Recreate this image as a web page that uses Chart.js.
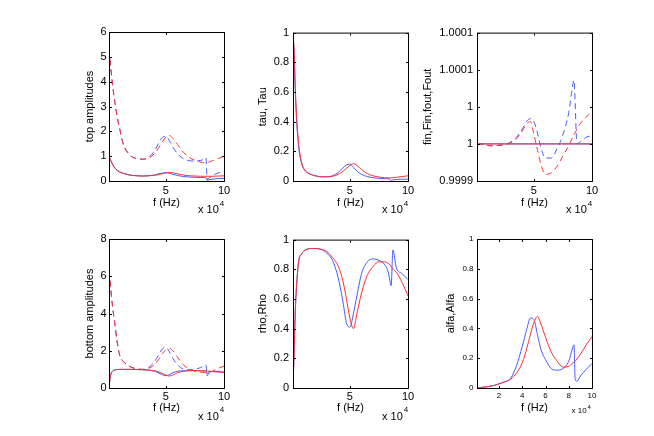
<!DOCTYPE html>
<html><head><meta charset="utf-8">
<script src="https://cdn.jsdelivr.net/npm/chart.js@4.4.1/dist/chart.umd.min.js"></script>
<style>
html,body{margin:0;padding:0;background:#fff;}
body{width:654px;height:436px;overflow:hidden;position:relative;}
canvas{position:absolute;}
</style>
</head><body>
<canvas id="c1"></canvas><canvas id="c2"></canvas><canvas id="c3"></canvas>
<canvas id="c4"></canvas><canvas id="c5"></canvas><canvas id="c6"></canvas>
<script>
// ---------- DATA ----------
const freqHz = [1000, 2000, 3000, 4000, 6000, 8000, 10000, 13000, 16000, 20000, 25000, 30000, 35000, 40000, 44000, 47000, 50000, 53000, 56000, 60000, 65000, 70000, 75000, 80000, 83000, 84500, 85500, 87000, 90000, 95000, 100000];

// top amplitudes
const topSolidBlue  = [0.99, 0.88, 0.77, 0.68, 0.53, 0.43, 0.37, 0.31, 0.27, 0.23, 0.21, 0.20, 0.21, 0.24, 0.29, 0.32, 0.33, 0.31, 0.27, 0.22, 0.18, 0.16, 0.15, 0.14, 0.14, 0.13, 0.03, 0.05, 0.07, 0.10, 0.11];
const topSolidRed   = [0.99, 0.88, 0.77, 0.68, 0.53, 0.43, 0.37, 0.31, 0.27, 0.23, 0.21, 0.20, 0.21, 0.23, 0.26, 0.30, 0.33, 0.35, 0.33, 0.29, 0.24, 0.21, 0.20, 0.19, 0.19, 0.19, 0.19, 0.19, 0.19, 0.20, 0.21];
const topDashBlue   = [5.3, 4.85, 4.35, 3.9, 3.2, 2.6, 2.15, 1.53, 1.22, 1.0, 0.9, 0.88, 0.95, 1.2, 1.55, 1.76, 1.8, 1.62, 1.36, 1.1, 0.9, 0.82, 0.8, 0.83, 0.88, 0.93, 0.06, 0.12, 0.22, 0.32, 0.4];
const topDashRed    = [5.3, 4.85, 4.35, 3.9, 3.2, 2.6, 2.15, 1.53, 1.22, 1.0, 0.9, 0.88, 0.92, 1.1, 1.35, 1.58, 1.77, 1.83, 1.72, 1.47, 1.16, 0.95, 0.83, 0.76, 0.73, 0.73, 0.74, 0.76, 0.82, 0.9, 1.0];

// tau, Tau
const tauBlue = [1.0, 0.85, 0.6, 0.42, 0.22, 0.13, 0.085, 0.058, 0.045, 0.035, 0.028, 0.028, 0.035, 0.058, 0.088, 0.108, 0.113, 0.092, 0.066, 0.045, 0.03, 0.022, 0.018, 0.016, 0.015, 0.012, 0.0, 0.008, 0.01, 0.012, 0.013];
const tauRed  = [1.0, 0.87, 0.63, 0.45, 0.24, 0.14, 0.09, 0.06, 0.046, 0.036, 0.029, 0.028, 0.032, 0.045, 0.065, 0.085, 0.104, 0.117, 0.106, 0.077, 0.05, 0.035, 0.027, 0.022, 0.021, 0.021, 0.021, 0.022, 0.025, 0.03, 0.035];

// fin, Fin, fout, Fout
const finSolidBlue = [0.99995, 0.99995, 0.99995, 0.99995, 0.99995, 0.99995, 0.99995, 0.99995, 0.99995, 0.99995, 0.99995, 0.99995, 0.99995, 0.99995, 0.99995, 0.99995, 0.99995, 0.99995, 0.99995, 0.99995, 0.99995, 0.99995, 0.99995, 0.99995, 0.99995, 0.99995, 0.99995, 0.99995, 0.99995, 0.99995, 0.99995];
const finSolidRed  = [0.99995, 0.99995, 0.99995, 0.99995, 0.99995, 0.99995, 0.99995, 0.99995, 0.99995, 0.99995, 0.99995, 0.99995, 0.99995, 0.99995, 0.99995, 0.99995, 0.99995, 0.99995, 0.99995, 0.99995, 0.99995, 0.99995, 0.99995, 0.99995, 0.99995, 0.99995, 0.99995, 0.99995, 0.99995, 0.99995, 0.99995];
const finDashBlue  = [0.99995, 0.99995, 0.99995, 0.99995, 0.9999495, 0.999949, 0.999948, 0.9999475, 0.9999475, 0.999948, 0.9999495, 0.9999525, 0.999959, 0.99997, 0.999981, 0.999984, 0.99998, 0.999965, 0.999945, 0.999931, 0.999931, 0.999944, 0.9999625, 0.9999925, 1.000025, 1.000036, 1.000005, 0.99995, 0.999953, 0.999959, 0.999961];
const finDashRed   = [0.99995, 0.99995, 0.99995, 0.99995, 0.9999495, 0.999949, 0.999948, 0.9999475, 0.9999475, 0.999948, 0.999949, 0.9999515, 0.999957, 0.9999675, 0.9999775, 0.99998, 0.9999625, 0.9999425, 0.9999225, 0.999909, 0.999911, 0.99992, 0.999934, 0.9999475, 0.9999575, 0.9999625, 0.999965, 0.99997, 0.9999775, 0.999986, 0.999994];

// bottom amplitudes
const botSolidBlue = [0.0, 0.55, 0.8, 0.9, 0.97, 0.99, 1.0, 1.0, 1.0, 1.0, 0.99, 0.98, 0.96, 0.9, 0.8, 0.71, 0.66, 0.72, 0.82, 0.9, 0.92, 0.93, 0.93, 0.92, 0.92, 0.93, 0.75, 0.9, 0.89, 0.87, 0.86];
const botSolidRed  = [0.0, 0.55, 0.8, 0.9, 0.97, 0.99, 1.0, 1.0, 1.0, 1.0, 0.99, 0.98, 0.96, 0.93, 0.86, 0.78, 0.7, 0.64, 0.7, 0.82, 0.9, 0.93, 0.94, 0.93, 0.92, 0.91, 0.91, 0.9, 0.88, 0.86, 0.83];
const botDashBlue  = [6.3, 5.7, 5.0, 4.4, 3.45, 2.5, 1.8, 1.45, 1.27, 1.12, 1.03, 1.0, 1.1, 1.4, 1.8, 2.1, 2.2, 1.95, 1.6, 1.25, 1.02, 0.98, 1.0, 1.1, 1.2, 1.25, 0.65, 0.8, 0.88, 0.9, 0.92];
const botDashRed   = [6.3, 5.7, 5.0, 4.4, 3.45, 2.5, 1.8, 1.45, 1.27, 1.12, 1.03, 1.0, 1.05, 1.25, 1.55, 1.85, 2.05, 2.13, 2.0, 1.65, 1.25, 1.02, 0.9, 0.85, 0.83, 0.83, 0.83, 0.85, 0.9, 1.05, 1.18];

// rho, Rho
const rhoBlue = [0.0, 0.25, 0.52, 0.68, 0.86, 0.9, 0.92, 0.935, 0.94, 0.94, 0.935, 0.91, 0.86, 0.74, 0.58, 0.44, 0.41, 0.5, 0.62, 0.77, 0.85, 0.87, 0.86, 0.83, 0.78, 0.72, 0.69, 0.93, 0.81, 0.77, 0.73];
const rhoRed  = [0.0, 0.25, 0.52, 0.68, 0.86, 0.9, 0.92, 0.935, 0.94, 0.94, 0.935, 0.92, 0.88, 0.82, 0.72, 0.6, 0.47, 0.4, 0.5, 0.64, 0.76, 0.82, 0.85, 0.85, 0.84, 0.83, 0.82, 0.8, 0.78, 0.71, 0.62];

// alfa, Alfa
const alfaBlue = [0.0, 0.001, 0.002, 0.003, 0.005, 0.007, 0.009, 0.013, 0.018, 0.028, 0.042, 0.065, 0.15, 0.28, 0.4, 0.47, 0.46, 0.36, 0.26, 0.19, 0.13, 0.12, 0.13, 0.18, 0.26, 0.29, 0.06, 0.045, 0.08, 0.125, 0.165];
const alfaRed  = [0.0, 0.001, 0.002, 0.003, 0.005, 0.007, 0.009, 0.013, 0.018, 0.028, 0.042, 0.06, 0.1, 0.17, 0.27, 0.36, 0.44, 0.48, 0.43, 0.34, 0.24, 0.18, 0.14, 0.145, 0.165, 0.175, 0.18, 0.195, 0.225, 0.29, 0.345];

// tick values and labels
const xTicksCoarse = [50000, 100000];
const xLabelsCoarse = ['5', '10'];
const xTicksFine = [20000, 40000, 60000, 80000, 100000];
const xLabelsFine = ['2', '4', '6', '8', '10'];
const yTicksTopAmp = [0, 1, 2, 3, 4, 5, 6];
const yLabelsTopAmp = ['0', '1', '2', '3', '4', '5', '6'];
const yTicksBotAmp = [0, 2, 4, 6, 8];
const yLabelsBotAmp = ['0', '2', '4', '6', '8'];
const yTicksUnit = [0, 0.2, 0.4, 0.6, 0.8, 1];
const yLabelsUnit = ['0', '0.2', '0.4', '0.6', '0.8', '1'];
const yTicksFin = [0.9999, 0.99995, 1.0, 1.00005, 1.0001];
const yLabelsFin = ['0.9999', '1', '1', '1.0001', '1.0001'];

// ---------- STYLE / LAYOUT ----------
const FONT = '"Liberation Sans", Arial, Helvetica, sans-serif';
const BLUE = 'rgb(70,90,255)';
const RED = 'rgb(255,45,55)';
const DASH = [6, 4];

const matlabBox = {
  id: 'matlabBox',
  afterDraw(chart, args, o) {
    const ctx = chart.ctx;
    const {left, top, right, bottom} = chart.chartArea;
    const xs = chart.scales.x, ys = chart.scales.y;
    ctx.save();
    ctx.strokeStyle = '#000';
    ctx.lineWidth = 1;
    ctx.strokeRect(left + 0.5, top + 0.5, right - left, bottom - top);
    ctx.beginPath();
    const tl = 2;
    xs.ticks.forEach(t => {
      const px = Math.round(xs.getPixelForValue(t.value)) + 0.5;
      ctx.moveTo(px, bottom); ctx.lineTo(px, bottom - tl);
      ctx.moveTo(px, top + 1); ctx.lineTo(px, top + 1 + tl);
    });
    ys.ticks.forEach(t => {
      const py = Math.round(ys.getPixelForValue(t.value)) + 0.5;
      ctx.moveTo(left + 1, py); ctx.lineTo(left + 1 + tl, py);
      ctx.moveTo(right, py); ctx.lineTo(right - tl, py);
    });
    ctx.stroke();
    // exponent label
    ctx.fillStyle = '#000';
    ctx.textAlign = 'left';
    ctx.textBaseline = 'middle';
    ctx.font = o.expSize + 'px ' + FONT;
    const ex = right + o.expDx, ey = bottom + o.expDy;
    ctx.fillText('x 10', ex, ey);
    const w = ctx.measureText('x 10').width;
    ctx.font = o.supSize + 'px ' + FONT;
    ctx.fillText('4', ex + w + 1, ey + o.supDy);
    ctx.restore();
  }
};
Chart.register(matlabBox);

function series(arr, color, dashed) {
  return {
    data: freqHz.map((f, i) => ({x: f, y: arr[i]})),
    borderColor: color,
    borderWidth: 1,
    borderDash: dashed ? DASH : [],
    pointRadius: 0,
    fill: false,
    cubicInterpolationMode: 'monotone'
  };
}

function makePanel(p) {
  const cv = document.getElementById(p.id);
  const W = p.R - p.L + 80, H = p.B - p.T + 55;
  cv.width = W; cv.height = H;
  cv.style.left = (p.L - 60) + 'px';
  cv.style.top = (p.T - 10) + 'px';
  new Chart(cv, {
    type: 'line',
    data: {datasets: p.datasets},
    options: {
      responsive: false,
      animation: false,
      events: [],
      layout: {padding: {left: 0, top: 10, right: 20, bottom: 0}},
      plugins: {
        legend: {display: false},
        tooltip: {enabled: false},
        matlabBox: p.exp
      },
      scales: {
        x: {
          type: 'linear', min: 1000, max: 100000,
          afterBuildTicks: s => { s.ticks = p.xTicks.map(v => ({value: v})); },
          afterFit: s => { s.height = 45; },
          grid: {display: false, drawTicks: false},
          border: {display: false},
          ticks: {autoSkip: false, maxRotation: 0, minRotation: 0, padding: p.xPad, color: '#000',
                  font: {family: FONT, size: p.tickSize}, callback: (v, i) => p.xLabels[i]},
          title: {display: true, text: 'f (Hz)', color: '#000', font: {family: FONT, size: 11},
                  padding: {top: 0, bottom: p.xTitlePad}}
        },
        y: {
          type: 'linear', min: p.yTicks[0], max: p.yTicks[p.yTicks.length - 1],
          afterBuildTicks: s => { s.ticks = p.yTicks.map(v => ({value: v})); },
          afterFit: s => { s.width = 60; },
          grid: {display: false, drawTicks: false},
          border: {display: false},
          ticks: {autoSkip: false, padding: p.yPad, color: '#000',
                  font: {family: FONT, size: p.tickSize}, callback: (v, i) => p.yLabels[i]},
          title: {display: true, text: p.yTitle, color: '#000', font: {family: FONT, size: 11},
                  padding: {top: p.yTitlePad, bottom: 0}}
        }
      }
    }
  });
}

const expTop = {expSize: 11, supSize: 8, expDx: -26, expDy: 28.8, supDy: -6.5};
const expBot = {expSize: 11, supSize: 8, expDx: -26, expDy: 28.7, supDy: -6.5};
const expSmall = {expSize: 8, supSize: 6, expDx: -20.5, expDy: 23, supDy: -4};

const panels = [
  {id: 'c1', L: 109, T: 32, R: 224, B: 181, yTicks: yTicksTopAmp, yLabels: yLabelsTopAmp, yTitle: 'top amplitudes',
   xTicks: xTicksCoarse, xLabels: xLabelsCoarse, tickSize: 11, xPad: 3, yPad: 2.5, yTitlePad: 34.6, xTitlePad: 16.4, exp: expTop,
   datasets: [series(topSolidRed, RED, false), series(topDashRed, RED, true), series(topSolidBlue, BLUE, false), series(topDashBlue, BLUE, true)]},
  {id: 'c2', L: 293, T: 32, R: 408, B: 181, yTicks: yTicksUnit, yLabels: yLabelsUnit, yTitle: 'tau, Tau',
   xTicks: xTicksCoarse, xLabels: xLabelsCoarse, tickSize: 11, xPad: 3, yPad: 4, yTitlePad: 23.4, xTitlePad: 16.4, exp: expTop,
   datasets: [series(tauRed, RED, false), series(tauBlue, BLUE, false)]},
  {id: 'c3', L: 477, T: 32, R: 592, B: 181, yTicks: yTicksFin, yLabels: yLabelsFin, yTitle: 'fin,Fin,fout,Fout',
   xTicks: xTicksCoarse, xLabels: xLabelsCoarse, tickSize: 11, xPad: 3, yPad: 4, yTitlePad: 4.1, xTitlePad: 16.4, exp: expTop,
   datasets: [series(finSolidRed, RED, false), series(finDashRed, RED, true), series(finSolidBlue, BLUE, false), series(finDashBlue, BLUE, true)]},
  {id: 'c4', L: 109, T: 239, R: 224, B: 388, yTicks: yTicksBotAmp, yLabels: yLabelsBotAmp, yTitle: 'bottom amplitudes',
   xTicks: xTicksCoarse, xLabels: xLabelsCoarse, tickSize: 11, xPad: 2, yPad: 2.5, yTitlePad: 34.6, xTitlePad: 18.1, exp: expBot,
   datasets: [series(botSolidRed, RED, false), series(botDashRed, RED, true), series(botSolidBlue, BLUE, false), series(botDashBlue, BLUE, true)]},
  {id: 'c5', L: 293, T: 239, R: 408, B: 388, yTicks: yTicksUnit, yLabels: yLabelsUnit, yTitle: 'rho,Rho',
   xTicks: xTicksCoarse, xLabels: xLabelsCoarse, tickSize: 11, xPad: 2, yPad: 4, yTitlePad: 23.4, xTitlePad: 18.1, exp: expBot,
   datasets: [series(rhoRed, RED, false), series(rhoBlue, BLUE, false)]},
  {id: 'c6', L: 477, T: 239, R: 592, B: 388, yTicks: yTicksUnit, yLabels: yLabelsUnit, yTitle: 'alfa,Alfa',
   xTicks: xTicksFine, xLabels: xLabelsFine, tickSize: 8, xPad: 2.5, yPad: 3.5, yTitlePad: 27.6, xTitlePad: 18.1, exp: expSmall,
   datasets: [series(alfaRed, RED, false), series(alfaBlue, BLUE, false)]}
];

panels.forEach(makePanel);
</script>
</body></html>
